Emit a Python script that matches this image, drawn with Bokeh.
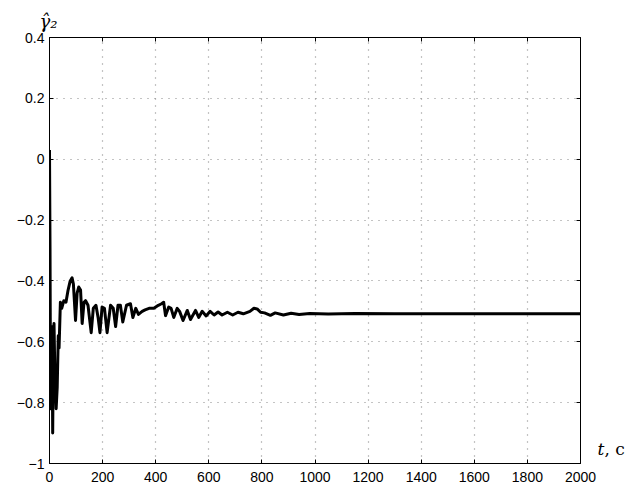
from bokeh.plotting import figure
from bokeh.models import FixedTicker, LinearAxis
from bokeh.embed import file_html
from bokeh.resources import INLINE

# Estimated parameter gamma_2 over time t (s)
t = [0, 2, 4, 7, 10, 12, 15, 17, 20, 25, 29, 33, 36, 41, 46, 54, 62, 70, 78, 85,
     90, 98, 104, 110, 117, 123, 130, 136, 145, 157, 165, 175, 183, 190, 198, 207,
     217, 230, 240, 249, 258, 267, 276, 290, 305, 314, 325, 335, 349, 360, 375,
     393, 410, 422, 430, 437, 449, 458, 468, 481, 490, 503, 519, 531, 550, 562,
     575, 590, 605, 620, 635, 650, 670, 690, 710, 730, 755, 770, 782, 795, 810,
     832, 850, 881, 910, 940, 980, 1050, 1150, 1300, 1500, 2000]
gamma2 = [0.03, -0.30, -0.82, -0.55, -0.60, -0.90, -0.56, -0.54, -0.70, -0.82,
          -0.75, -0.58, -0.62, -0.47, -0.49, -0.465, -0.47, -0.43, -0.40, -0.39,
          -0.41, -0.53, -0.44, -0.42, -0.43, -0.54, -0.47, -0.465, -0.48, -0.57,
          -0.49, -0.48, -0.52, -0.57, -0.486, -0.49, -0.57, -0.48, -0.49, -0.55,
          -0.48, -0.48, -0.535, -0.48, -0.475, -0.52, -0.49, -0.51, -0.50, -0.495,
          -0.49, -0.49, -0.48, -0.475, -0.47, -0.514, -0.486, -0.49, -0.52, -0.49,
          -0.50, -0.53, -0.497, -0.527, -0.497, -0.52, -0.50, -0.515, -0.50,
          -0.512, -0.502, -0.512, -0.503, -0.512, -0.503, -0.508, -0.50, -0.49,
          -0.492, -0.503, -0.505, -0.513, -0.505, -0.512, -0.506, -0.51, -0.507,
          -0.509, -0.507, -0.508, -0.508, -0.508]

x_ticks = [0, 200, 400, 600, 800, 1000, 1200, 1400, 1600, 1800, 2000]
y_ticks = [-1.0, -0.8, -0.6, -0.4, -0.2, 0.0, 0.2, 0.4]
y_tick_labels = ["\u22121", "\u22120.8", "\u22120.6", "\u22120.4", "\u22120.2", "0", "0.2", "0.4"]

FONT = "Liberation Sans"
SERIF = "DejaVu Serif"

p = figure(width=643, height=486, x_range=(0, 2000), y_range=(-1, 0.4),
           output_backend="svg", toolbar_location=None,
           min_border_left=49, min_border_right=63, min_border_top=37, min_border_bottom=23)

p.line(t, gamma2, line_color="black", line_width=3, line_join="round")

p.outline_line_color = "black"
p.outline_line_width = 1
p.background_fill_color = "white"
p.border_fill_color = "white"

# y-axis caption as the plot title, top left
p.title.text = "\u03b3\u0302\u2082"
p.title.align = "left"
p.title.offset = -10
p.title.standoff = 12
p.title.text_font = SERIF
p.title.text_font_style = "italic"
p.title.text_font_size = "18px"
p.title.text_color = "black"

for ax in (p.xaxis[0], p.yaxis[0]):
    ax.axis_line_color = "black"
    ax.major_tick_in = 4
    ax.major_tick_out = 0
    ax.minor_tick_line_color = None
    ax.major_label_text_font = FONT
    ax.major_label_text_font_size = "14px"
    ax.major_label_text_color = "black"

p.xaxis[0].ticker = FixedTicker(ticks=x_ticks)
p.xaxis[0].major_label_overrides = {v: str(v) for v in x_ticks}
p.xaxis[0].major_label_standoff = 8
p.yaxis[0].ticker = FixedTicker(ticks=y_ticks)
p.yaxis[0].major_label_overrides = dict(zip(y_ticks, y_tick_labels))
p.yaxis[0].major_label_standoff = 5

# inward ticks on the top and right edges of the box
top = LinearAxis(ticker=FixedTicker(ticks=x_ticks), major_tick_in=4, major_tick_out=0,
                 minor_tick_line_color=None, axis_line_color=None,
                 major_label_text_font_size="0px", major_label_standoff=0,
                 major_label_overrides={v: "" for v in x_ticks})
p.add_layout(top, "above")
right = LinearAxis(ticker=FixedTicker(ticks=y_ticks), major_tick_in=4, major_tick_out=0,
                   minor_tick_line_color=None, axis_line_color=None,
                   major_label_text_font_size="0px", major_label_standoff=0,
                   major_label_overrides={v: "" for v in y_ticks})
p.add_layout(right, "right")

# x-axis caption "t, c" beside the last tick label
caption_y = -0.952
t_axis = LinearAxis(ticker=FixedTicker(ticks=[caption_y]), major_tick_line_color=None,
                    minor_tick_line_color=None, axis_line_color=None,
                    major_label_standoff=11, major_label_overrides={caption_y: "t"},
                    major_label_text_font=SERIF, major_label_text_font_style="italic",
                    major_label_text_font_size="17px", major_label_text_color="black")
p.add_layout(t_axis, "right")
unit_axis = LinearAxis(ticker=FixedTicker(ticks=[caption_y]), major_tick_line_color=None,
                       minor_tick_line_color=None, axis_line_color=None,
                       major_label_standoff=-9, major_label_overrides={caption_y: ", c"},
                       major_label_text_font=SERIF,
                       major_label_text_font_size="17px", major_label_text_color="black")
p.add_layout(unit_axis, "right")

for g in (p.xgrid[0], p.ygrid[0]):
    g.grid_line_color = "#888888"
    g.grid_line_dash = "1 6"
    g.grid_line_width = 1.2

open("out.html", "w").write(file_html(p, INLINE))
